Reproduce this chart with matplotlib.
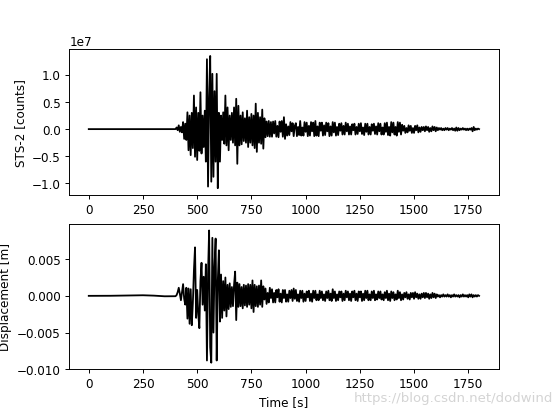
import numpy as np
import matplotlib
matplotlib.use('Agg')
import matplotlib.pyplot as plt

dt = 5.0
t_inicio = 400.0

# STS-2, en unidades de 1e5 cuentas
sts2_pre_t = [0.0]
sts2_pre = [0]
sts2 = [
    0, 3, -2, 7, -5, 4, -6, 13, -18, 10,
    -20, 31, -39, 25, -48, 30, -35, 62, -51, 40,
    -57, 30, -40, 68, -45, 25, -33, 34, -60, 129,
    -106, 60, 135, -97, 102, -88, 70, -60, 102, -109,
    30, -60, 25, -20, 31, -27, 62, -30, 40, -39,
    25, -20, 30, -25, 40, -30, 56, -64, 43, -30,
    25, -28, 31, -22, 20, -25, 34, -33, 22, -25,
    28, -30, 25, -35, 47, -42, 30, -25, 22, -27,
    36, -36, 20, -15, 14, -13, 15, -14, 13, -14,
    14, -8, 15, -14, 6, -15, 14, -5, 15, -14,
    22, -18, 9, -12, 5, -11, 13, -4, 11, -13,
    6, 11, -13, 4, -11, 15, -12, 3, -12, 13,
    -5, 12, -13, 6, -12, 13, -4, 12, -13, 15,
    -12, 5, -13, 12, -3, 12, -12, 7, -11, 12,
    -4, 11, -13, 5, -12, 13, -6, 12, -12, 4,
    -11, 10, -3, 11, -10, 6, -10, 12, -4, 10,
    -10, 5, -10, 9, -2, 10, -10, 4, -9, 10,
    -4, 11, -9, 3, -11, 10, -5, 10, -10, 4,
    -10, 9, -3, 10, -9, 5, -10, 11, -4, 10,
    -10, 3, -10, 11, -5, 12, -11, 4, -12, 13,
    -6, 12, -10, 4, -12, 13, -5, 12, -10, 8,
    -3, 6, -7, 2, -6, 7, -3, 6, -7, 2,
    -7, 6, -2, 7, -6, 3, -5, 4, -2, 4,
    -4, 5, -2, 4, -5, 2, -4, 5, -2, 4,
    -4, 3, -2, 2, -1, 2, -2, 1, -2, 2,
    -1, 2, -2, 1, -1, 2, -2, 1, -3, 3,
    -3, 2, -2, 1, -1, 2, -1, 1, -2, 1,
    -2, 1, -1, 2, -4, 4, -2, 1, -1, 1,
    0,
]

# Desplazamiento, en unidades de 1e-4 m
despl_pre_t = [0, 50, 100, 150, 200, 250, 300, 350]
despl_pre = [0, 0, 0.1, 0.3, 0.6, 0.8, 0.3, -0.6]
despl = [
    -0.5, 1, 5, 11, 3, -6, 5, 16, -4, -12,
    11, -31, 10, -38, 9, -40, -10, 35, 66, -30,
    8, -25, -44, 20, 45, -12, 26, -20, 43, -88,
    30, 89, -70, -91, 79, -50, 40, 78, -88, 20,
    62, -35, 29, -30, 20, -20, 25, -28, 15, -18,
    17, -15, 12, -14, 15, 33, -33, 18, -15, 16,
    -14, 12, -17, 15, -13, 14, -15, 16, -12, 15,
    -17, 21, -22, 15, -14, 13, -15, 14, -12, 21,
    -15, 13, -5, 10, -11, 4, -9, 11, -3, 9,
    -9, 4, -9, 8, -2, 9, -8, 3, -9, 8,
    -3, 8, -8, 2, -8, 7, -3, 8, -7, 10,
    -4, 8, -7, 2, -8, 7, -3, 7, -8, 3,
    -7, 6, -2, 7, -7, 3, -8, 7, -3, 7,
    -6, 2, -6, 7, -3, 6, -6, 2, -7, 6,
    -3, 7, -6, 3, -7, 9, -3, 6, -7, 2,
    -6, 6, -2, 6, -7, 3, -6, 7, -2, 6,
    -6, 3, -7, 6, -2, 7, -6, 3, -7, 6,
    -2, 6, -7, 3, -6, 7, -3, 7, -6, 2,
    -6, 6, -3, 7, -6, 2, -5, 6, -3, 6,
    -5, 2, -6, 5, -3, 7, -6, 3, -7, 6,
    -3, 5, -6, 2, -5, 7, -3, 5, -6, 2,
    -5, 4, -2, 5, -4, 2, -5, 4, -2, 4,
    -4, 5, -2, 3, -4, 2, -4, 3, -2, 4,
    -3, 4, -2, 3, -4, 2, -3, 4, -2, 3,
    -3, 2, -1, 1, -2, 1, -1, 2, -1, 1,
    -1, 2, -1, 1, -2, 1, -1, 2, -1, 1,
    -1, 1, -2, 1, -1, 2, -1, 1, -1, 1,
    -2, 2, -1, 2, -2, 1, -1, 1, -1, 1,
    0,
]

# Armar las series completas
t_sts2 = np.concatenate([sts2_pre_t, t_inicio + dt * np.arange(len(sts2))])
y_sts2 = np.concatenate([sts2_pre, sts2]) * 1e5
t_despl = np.concatenate([despl_pre_t, t_inicio + dt * np.arange(len(despl))])
y_despl = np.concatenate([despl_pre, despl]) * 1e-4

fig, (ax1, ax2) = plt.subplots(2, 1, figsize=(6.4, 4.8), dpi=86.5625)

ax1.plot(t_sts2, y_sts2, 'k')
ax1.set_ylabel('STS-2 [counts]')

ax2.plot(t_despl, y_despl, 'k')
ax2.set_ylabel('Displacement [m]')
ax2.set_xlabel('Time [s]')

# Marca de agua del blog
fig.text(0.998, 0.025, 'https://blog.csdn.net/dodwind', ha='right', va='bottom',
         color='#d4d4d4', fontsize=11)

fig.savefig('out.png')
